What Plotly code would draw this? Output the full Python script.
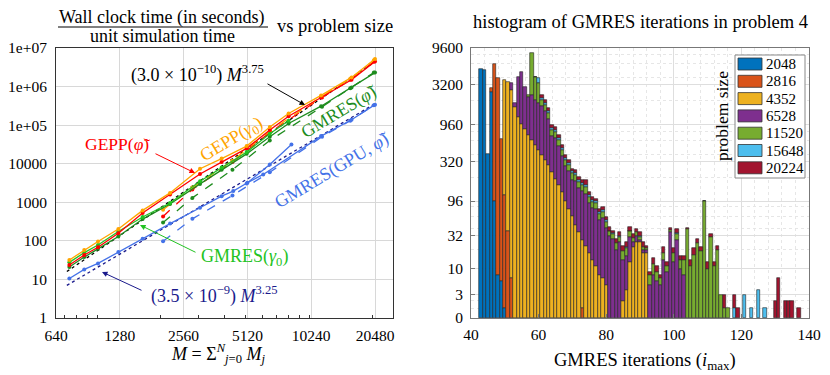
import math
import plotly.graph_objects as go

# the page adds an 8px body margin, so the figure is 8px smaller and all
# positions below are given in page pixels and shifted by OFF
OFF = 8
W, H = 830 - OFF, 375 - OFF
FONT = "Liberation Serif"

# ---------------- left panel: wall clock time vs problem size ----------------
M_a = [740, 870, 1010, 1260, 1640, 2210, 3060, 3870, 5080, 6530, 8010, 11400, 15870, 20480]
gepp_g0 = [32, 58, 96, 202, 616, 1750, 7400, 13600, 28600, 89000, 200000, 590000, 1730000, 5200000]
gepp_phi = [23.6, 43, 68, 157, 527, 1590, 5400, 11000, 25000, 75000, 170000, 520000, 1500000, 4500000]
gmres_phi = [21, 38, 62, 130, 367, 900, 3000, 7000, 18000, 50000, 110000, 310000, 940000, 2300000]
M_g0 = [740, 870, 1010, 1260, 1640, 2210, 3060, 3870, 5080, 6530, 8010]
gmres_g0 = [27.7, 49.6, 78, 175, 415, 960, 3500, 8000, 20000, 60000, 130000]
M_gpu = [740, 870, 1010, 1260, 1640, 2210, 3060, 3870, 4390, 5120, 6080, 11400, 15870, 20480]
gmres_gpu = [10.6, 18.2, 26, 51.6, 113, 280, 720, 1440, 1950, 3200, 5270, 52000, 138000, 340000]
M_gpu_b = [5080, 6530, 8260]
gmres_gpu_b = [3090, 9600, 31600]

M_p4 = [2048, 2816, 4352, 6528, 11520, 15648, 20224]
gepp_g0_p4 = [640, 2400, 12000, 70000, 560000, 1600000, 4800000]
gepp_phi_p4 = [430, 2150, 11000, 65000, 520000, 1500000, 4400000]
gmres_phi_p4 = [300, 1300, 7000, 40000, 300000, 900000, 2300000]
gmres_gpu_p4 = [98, 372, 1500, 6000, 50000, 130000, 330000]

fit_M = [720, 20480]
fit_375 = [16, 4400000]      # (3.0e-10) M^3.75
fit_325 = [7, 360000]        # (3.5e-9) M^3.25

x_ticks = [640, 1280, 2560, 5120, 10240, 20480]
y_ticks = [1, 10, 100, 1000, 10000, 1e5, 1e6, 1e7]
y_ticktext = ["1", "10", "100", "1000", "10000", "1e+05", "1e+06", "1e+07"]

# ---------------- right panel: histogram of GMRES iterations ----------------
sizes = ["2048", "2816", "4352", "6528", "11520", "15648", "20224"]
colors = ["#0072BD", "#D95319", "#EDB120", "#7E2F8E", "#77AC30", "#4DBEEE", "#A2142F"]

it_2048 = [43, 44, 45, 46, 47, 48, 49, 50]
n_2048 = [5200, 4970, 405, 2600, 97, 8, 6, 1]

it_2816 = [46, 47, 48, 49, 50, 51, 52, 73]
n_2816 = [300, 5800, 3870, 630, 113, 37, 7, 1]

it_4352 = list(range(50, 81)) + list(range(85, 93))
n_4352 = [3575, 3400, 2728, 1650, 1225, 1000, 860, 705, 607, 522, 448, 385, 331, 285, 232,
          190, 155, 126, 97, 75, 61, 45, 36, 27, 23, 18, 14, 11, 8, 7, 5,
          2, 4, 13, 22, 26, 26, 18, 18]

it_6528 = list(range(52, 104))
n_6528 = [605, 180, 2775, 3700, 2140, 1545, 1743, 1500, 1380, 1304, 1123, 849, 453, 462,
          353, 250, 180, 163, 124, 131, 107, 103, 96, 73, 64, 64, 46, 50, 36,
          32, 29, 20, 26, 12, 12, 18, 4, 6, 2, 2, 2, 5, 8, 6, 5, 14, 9, 36, 13, 28, 10, 8]

it_11520 = list(range(57, 117))
n_11520 = [100, 5850, 2000, 1550, 352, 303, 236, 143, 136, 106, 78, 58, 50, 39, 37, 30, 27,
           27, 19, 16, 15, 11, 12, 9, 5, 5, 5, 5, 5, 5, 6, 4, 4, 3, 2, 1, 3, 4, 3, 2, 4, 2,
           3, 5, 6, 4, 6, 40, 11, 17, 25, 19, 95, 10, 31, 11, 20, 3, 1, 1]

it_15648 = list(range(59, 91)) + [101, 118, 121, 123, 125, 127]
n_15648 = [48, 500, 117, 101, 79, 48, 45, 35, 26, 19, 17, 13, 12, 10, 9, 9, 6, 5, 5, 4, 4, 3,
           1, 1, 0, 1, 0, 1, 1, 0, 0, 1,
           1, 1, 3, 1, 4, 1]

it_20224 = list(range(61, 114)) + [115, 118, 119, 130, 131, 133, 134, 135, 137]
n_20224 = [190, 162, 126, 76, 72, 56, 42, 31, 26, 21, 20, 16, 14, 25, 10, 9, 8, 6, 6, 5,
           4, 3, 4, 4, 4, 4, 4, 4, 4, 4, 4, 2, 1, 3, 2, 1, 4, 2, 2, 3, 5, 2, 2, 1, 3, 4, 4, 3,
           2, 3, 3, 2, 3,
           2, 2, 1, 2, 7, 2, 2, 2, 1]

hist_ticks = [0, 3, 10, 32, 96, 320, 960, 3200, 9600]
hist_minor = [1, 2, 20, 40, 60, 80, 200, 400, 600, 800, 2000, 4000, 6000, 8000]


def tr(c):
    # vertical scale of the histogram: log10(count + 3)
    return math.log10(c + 3)


def px(x, y):
    # page pixel -> paper coordinates
    return (x - OFF) / W, 1 - (y - OFF) / H


def dom_x(a, b):
    return [px(a, 0)[0], px(b, 0)[0]]


def dom_y(top, bottom):
    return [px(0, bottom)[1], px(0, top)[1]]


fig = go.Figure()

# left panel traces
line_kw = dict(mode="lines+markers", marker=dict(size=4, symbol="circle"), showlegend=False,
               xaxis="x", yaxis="y")
fig.add_trace(go.Scatter(x=fit_M, y=fit_375, mode="lines", line=dict(color="black", width=1.3, dash="dot"),
                         showlegend=False))
fig.add_trace(go.Scatter(x=fit_M, y=fit_325, mode="lines", line=dict(color="#1a1a8c", width=1.3, dash="dot"),
                         showlegend=False))
for xs, ys, col, dash in [
    (M_p4, gmres_gpu_p4, "#4472E8", "dash"),
    (M_p4, gmres_phi_p4, "#1E8C1E", "dash"),
    (M_p4, gepp_phi_p4, "#FF0000", "dash"),
    (M_p4, gepp_g0_p4, "#FFA500", "dash"),
    (M_gpu, gmres_gpu, "#4472E8", "solid"),
    (M_gpu_b, gmres_gpu_b, "#4472E8", "solid"),
    (M_a, gmres_phi, "#1E8C1E", "solid"),
    (M_g0, gmres_g0, "#22C322", "solid"),
    (M_a, gepp_phi, "#FF0000", "solid"),
    (M_a, gepp_g0, "#FFA500", "solid"),
]:
    fig.add_trace(go.Scatter(x=xs, y=ys, line=dict(color=col, width=1.3, dash=dash),
                             marker_color=col, **line_kw))

# right panel: stacked histogram on the log10(count+3) scale
cum = {}
for name, its, ns, col in zip(sizes, [it_2048, it_2816, it_4352, it_6528, it_11520, it_15648, it_20224],
                              [n_2048, n_2816, n_4352, n_6528, n_11520, n_15648, n_20224], colors):
    xs, base, hgt = [], [], []
    for i, n in zip(its, ns):
        if n <= 0:
            continue
        c0 = cum.get(i, 0)
        c1 = c0 + n
        cum[i] = c1
        xs.append(i)
        base.append(tr(c0))
        hgt.append(tr(c1) - tr(c0))
    fig.add_trace(go.Bar(x=xs, y=hgt, base=base, width=1, name=name, showlegend=False,
                         marker=dict(color=col, line=dict(color="#222222", width=0.6)),
                         xaxis="x2", yaxis="y2"))

axis_font = dict(family=FONT, size=15.5, color="black")
fig.update_layout(
    width=W, height=H, margin=dict(l=0, r=0, t=0, b=0),
    paper_bgcolor="white", plot_bgcolor="white", barmode="overlay", bargap=0,
    font=dict(family=FONT, color="black"),
    xaxis=dict(type="log", domain=dom_x(56, 393), range=[math.log10(640), math.log10(24900)],
               tickvals=x_ticks, ticktext=[str(v) for v in x_ticks], tickfont=axis_font,
               automargin=False,
               showline=True, mirror=True, linecolor="#333", linewidth=1, ticklabelstandoff=3,
               showgrid=True, gridcolor="#d8d8d8", gridwidth=1, ticks="", zeroline=False,
               minor=dict(ticks="inside", ticklen=3, tickcolor="#333",
                          tickvals=[700, 800, 900, 1000, 2000, 3000, 4000, 5000, 6000, 7000, 8000,
                                    9000, 10000, 20000], showgrid=False)),
    yaxis=dict(type="log", domain=dom_y(48, 318), range=[0, 7],
               tickvals=y_ticks, ticktext=y_ticktext, tickfont=axis_font, automargin=False,
               showline=True, mirror=True, linecolor="#333", linewidth=1, ticklabelstandoff=5,
               showgrid=True, gridcolor="#d8d8d8", ticks="", zeroline=False),
    xaxis2=dict(domain=dom_x(471, 809), range=[40, 140], anchor="y2", automargin=False,
                tickvals=[40, 60, 80, 100, 120, 140], tickfont=axis_font, ticklabelstandoff=2,
                showline=True, mirror=True, linecolor="#777", linewidth=1,
                showgrid=True, gridcolor="#dedede", ticks="inside", ticklen=4, tickcolor="#777",
                zeroline=False,
                minor=dict(dtick=4, showgrid=True, gridcolor="#e6e6e6", griddash="dot")),
    yaxis2=dict(domain=dom_y(48, 318), range=[tr(0), tr(9600)], anchor="x2",
                automargin=False,
                tickvals=[tr(v) for v in hist_ticks], ticktext=[str(v) for v in hist_ticks],
                tickfont=axis_font, showline=True, mirror=True, linecolor="#777", linewidth=1,
                showgrid=True, gridcolor="#dedede", ticks="inside", ticklen=4, tickcolor="#777",
                zeroline=False, ticklabelstandoff=4,
                minor=dict(tickvals=[tr(v) for v in hist_minor], showgrid=True, gridcolor="#e6e6e6",
                           griddash="dot")),
)

ann = []
shapes = []


def text(x, y, s, size=18, color="black", angle=0, xanchor="center"):
    ax_, ay_ = px(x, y)
    ann.append(dict(x=ax_, y=ay_, xref="paper", yref="paper", text=s, showarrow=False,
                    font=dict(family=FONT, size=size, color=color), textangle=angle,
                    xanchor=xanchor, yanchor="middle"))


def arrow(x0, y0, x1, y1, color):
    hx, hy = px(x1, y1)
    ann.append(dict(x=hx, y=hy, xref="paper", yref="paper", text="", showarrow=True,
                    ax=x0 - x1, ay=y0 - y1, arrowhead=2, arrowsize=1.1, arrowwidth=1,
                    arrowcolor=color))


def rect(x0, y0, x1, y1, fill, line_col, lw):
    a, b = px(x0, y1)
    c, d = px(x1, y0)
    shapes.append(dict(type="rect", xref="paper", yref="paper", x0=a, y0=b, x1=c, y1=d,
                       fillcolor=fill, line=dict(color=line_col, width=lw), layer="above"))


# titles
text(162, 18, "Wall clock time (in seconds)", 18)
text(162, 36, "unit simulation time", 18)
fx0, fy = px(58, 27)
fx1, _ = px(268, 27)
shapes.append(dict(type="line", xref="paper", yref="paper", x0=fx0, x1=fx1, y0=fy, y1=fy,
                   line=dict(color="black", width=1)))
text(275, 26, "vs problem size", 18.5, xanchor="left")
text(640, 22, "histogram of GMRES iterations in problem 4", 18.5)
text(218, 353, "<i>M</i> = Σ<sup><i>N</i></sup><sub><i>j</i>=0</sub> <i>M<sub>j</sub></i>", 18)
text(645, 361, "GMRES iterations (<i>i</i><sub>max</sub>)", 18.5)

# left-panel labels
text(197, 74, "(3.0 × 10<sup>−10</sup>) <i>M</i><sup>3.75</sup>", 18)
arrow(266, 83, 305, 105, "black")
text(117, 144, "GEPP(<i>φ̃</i>)", 17.5, "#FF0000")
arrow(154, 153, 195, 173, "#FF0000")
text(231, 140, "GEPP(<i>γ</i><sub>0</sub>)", 18, "#FFA500", -31)
text(340, 112, "GMRES(<i>φ̃</i>)", 18, "#1E8C1E", -31)
text(332, 170, "GMRES(GPU, <i>φ̃</i>)", 18, "#4472E8", -31)
text(245, 258, "GMRES(<i>γ</i><sub>0</sub>)", 18, "#22C322")
arrow(197, 253, 140, 225, "#22C322")
text(214, 295, "(3.5 × 10<sup>−9</sup>) <i>M</i><sup>3.25</sup>", 18, "#1a1a8c")
arrow(143, 291, 102, 272, "#1a1a8c")

# right-panel legend drawn by hand
rect(735, 55, 805, 178, "white", "#888", 1)
for k, (name, col) in enumerate(zip(sizes, colors)):
    yc = 64 + k * 17.3
    rect(738, yc - 6, 762, yc + 6, col, "#333", 0.8)
    text(764, yc, name, 15, xanchor="left")
text(722, 116, "problem size", 17.5, angle=-90)

fig.update_layout(annotations=ann, shapes=shapes)
fig.write_html("out.html")
